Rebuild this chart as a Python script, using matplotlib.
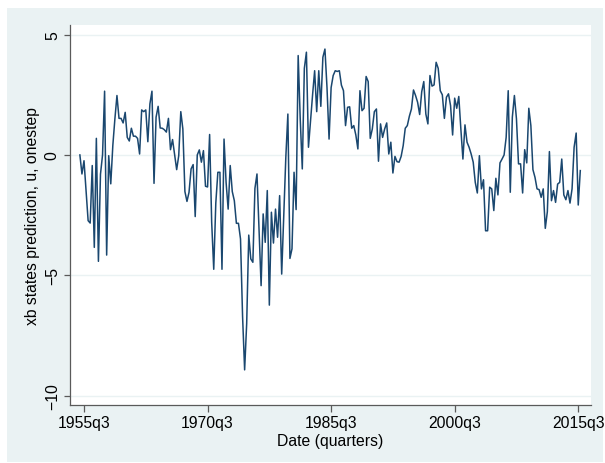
import numpy as np
import matplotlib.pyplot as plt
from matplotlib.patches import Rectangle

plt.rcParams['font.family'] = ['Liberation Sans', 'DejaVu Sans']

# quarterly series, 1955q1 .. 2015q4
start_year = 1955
u_onestep = [
    0.0, -0.79, -0.24, -1.5, -2.73, -2.83, -0.44, -3.84, 0.69, -4.42,
    -0.8, 0.0, 2.65, -4.16, -0.03, -1.2, 0.4, 1.5, 2.47, 1.52,
    1.52, 1.33, 1.77, 0.73, 0.58, 1.11, 0.78, 0.78, 0.69, 0.04,
    1.87, 1.80, 1.87, 0.55, 2.12, 2.65, -1.18, 1.57, 2.02, 1.12,
    1.11, 1.05, 0.95, 1.52, 0.22, 0.64, 0.0, -0.61, -0.03, 1.80,
    1.08, -1.52, -1.93, -1.55, -0.58, -0.40, -2.56, 0.0, 0.21, -0.30,
    0.18, -1.30, -1.33, 0.85, -2.8, -4.75, -2.0, -0.72, -0.72, -4.75,
    0.66, -1.14, -2.25, -0.44, -1.52, -1.9, -2.84, -2.84, -3.49, -6.7,
    -8.93, -7.0, -3.33, -4.32, -4.46, -1.39, -0.79, -3.1, -5.43, -2.45,
    -3.63, -1.48, -6.24, -2.38, -3.66, -2.25, -3.42, -1.69, -4.95, -2.5,
    -0.1, 1.70, -4.3, -3.9, -0.72, -2.27, 4.13, 1.5, -0.58, 3.6,
    4.27, 0.32, 1.4, 2.5, 3.5, 1.8, 3.5, 2.02, 4.06, 4.4,
    2.8, 0.66, 2.8, 3.3, 3.5, 3.47, 3.5, 2.9, 2.67, 1.22,
    1.98, 2.0, 1.11, 1.22, 0.83, 0.25, 2.67, 1.84, 1.94, 3.26,
    3.05, 0.69, 1.08, 1.80, 1.91, -0.26, 1.29, 0.73, 1.08, 1.33,
    0.04, 0.53, -0.75, -0.06, -0.28, -0.30, -0.06, 0.39, 1.11, 1.22,
    1.61, 1.91, 2.7, 2.47, 2.19, 1.68, 2.63, 3.05, 1.70, 1.29,
    3.3, 2.86, 2.91, 3.85, 3.6, 2.67, 2.5, 1.52, 2.4, 2.54,
    2.05, 0.83, 2.36, 1.94, 2.43, 1.08, -0.17, 1.25, 0.53, 0.32,
    0.04, -0.30, -1.14, -1.58, -0.03, -1.41, -1.03, -3.15, -3.15, -1.34,
    -1.41, -2.31, -0.97, -1.66, -0.33, -0.17, 0.0, 0.73, 2.67, -1.55,
    1.57, 2.47, 1.50, -0.37, -0.37, -1.58, 0.22, -0.33, 1.94, 1.22,
    -0.61, -0.93, -1.41, -1.44, -1.76, -1.41, -3.05, -2.36, 0.14, -1.90,
    -1.48, -1.97, -1.21, -1.14, -0.17, -1.66, -1.86, -1.48, -2.0, -1.41,
    0.32, 0.91, -2.08, -0.65,
]
tick_labels = ['1955q3', '1970q3', '1985q3', '2000q3', '2015q3']
y_ticks = [5, 0, -5, -10]
y_labels = ['5', '0', '\u22125', '\u221210']

# quarter index, 0 = 1955q1
q = np.arange(len(u_onestep))
tick_pos = [(int(s[:4]) - start_year) * 4 + int(s[-1]) - 1 for s in tick_labels]

fs = 11.3

fig = plt.figure(figsize=(6.05, 4.64), dpi=100)
fig.patch.set_facecolor('white')
# stata-style outer background, behind the axes
bg = Rectangle((7 / 605, 1 / 464), 596 / 605, 454 / 464,
               transform=fig.transFigure, facecolor='#eaf2f3',
               edgecolor='none', zorder=-10)
fig.add_artist(bg)

ax = fig.add_axes([70 / 605, 1 - 406 / 464, 521 / 605, 380 / 464])
ax.set_zorder(1)
ax.set_facecolor('white')
ax.plot(q, u_onestep, color='#1a476f', linewidth=1.1)

ax.set_xlim(-4.8, 248.2)
ax.set_ylim(-10.39, 5.40)
ax.set_xticks(tick_pos)
ax.set_xticklabels(tick_labels, fontsize=fs)
ax.set_yticks(y_ticks)
ax.set_yticklabels(y_labels, rotation=90, va='center', fontsize=fs)
ax.grid(axis='y', color='#eaf2f3', linewidth=1.0)
ax.set_axisbelow(True)

for s in ['top', 'right']:
    ax.spines[s].set_visible(False)
for s in ['left', 'bottom']:
    ax.spines[s].set_color('#5a5a5a')
    ax.spines[s].set_linewidth(0.9)
ax.tick_params(axis='both', width=0.9, color='#5a5a5a', labelcolor='black',
               direction='out')
ax.tick_params(axis='y', length=4.3, pad=3)
ax.tick_params(axis='x', length=5, pad=2.5)

ax.set_xlabel('Date (quarters)', fontsize=fs)
ax.set_ylabel('xb states prediction, u, onestep', fontsize=fs)
ax.xaxis.set_label_coords(0.5, -0.0737)
ax.yaxis.set_label_coords(-0.0576, 0.5)

fig.savefig('out.png', dpi=100)
